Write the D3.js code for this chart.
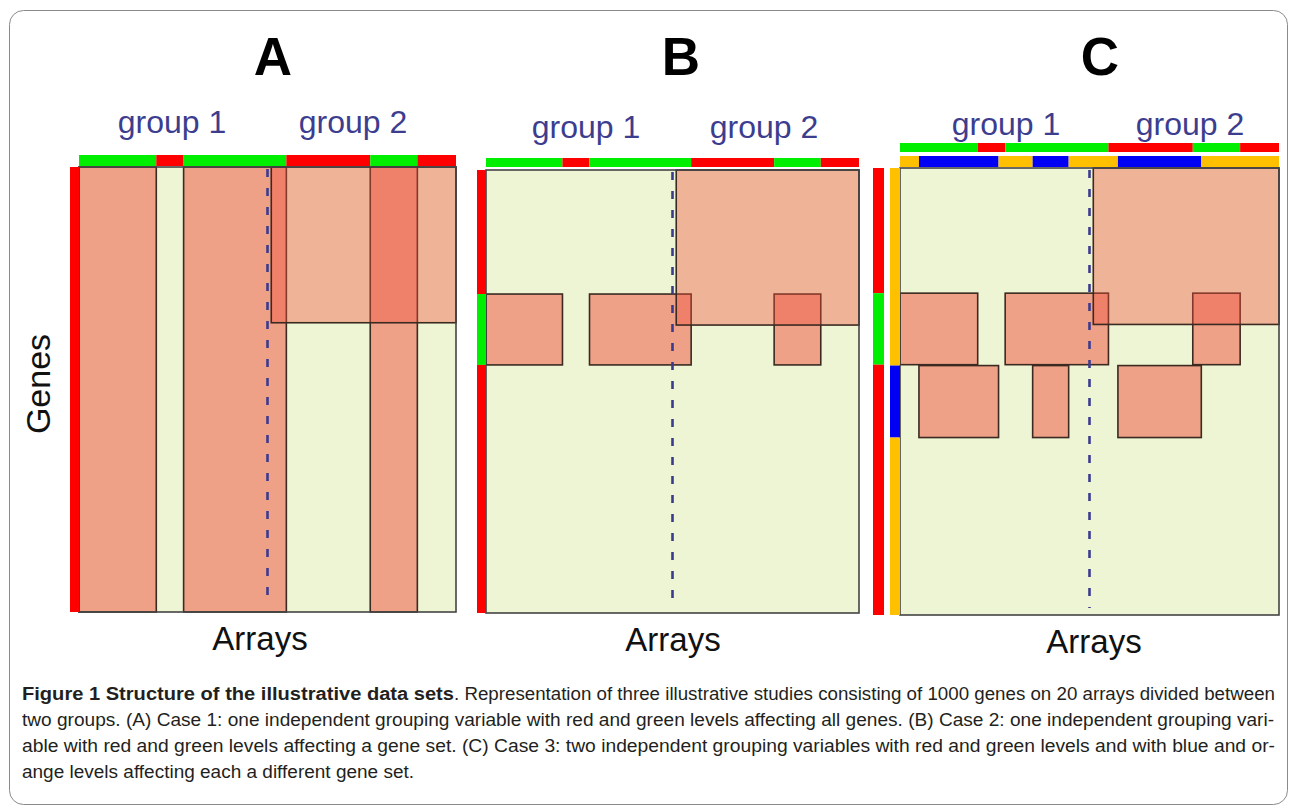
<!DOCTYPE html>
<html>
<head>
<meta charset="utf-8">
<script src="https://cdn.jsdelivr.net/npm/d3@7"></script>
<style>
body { margin: 0; background: #fff; }
svg text { font-family: "Liberation Sans", Arial, sans-serif; }
.caption { font-family: "Liberation Sans Narrow", "Liberation Sans", sans-serif !important; font-size: 17.5px; fill: #231f20; }
</style>
</head>
<body>
<svg id="fig" width="1289" height="807"></svg>
<script>
// ---- data ----
var panelNames = ["A", "B", "C"];
var nArrays = 20;
var nGenes = 1000;
var groupLabels = ["group 1", "group 2"];
var groupSplit = 10; // arrays 1-10 vs 11-20

// red / green grouping variable along the arrays
var rgBreaks = [0, 4.1, 5.55, 11.0, 15.45, 17.95, 20];
var rgLevels = ["green", "red", "green", "red", "green", "red"];
// blue / orange grouping variable (case 3 only)
var boBreaks = [0, 1.0, 5.2, 7.0, 8.9, 11.5, 15.9, 20];
var boLevels = ["orange", "blue", "orange", "blue", "orange", "blue", "orange"];

// gene sets
var group2Arrays = [10.2, 20];
var group2Genes = [0, 350];
var greenGenes = [280, 440];
var blueGenes = [442, 603];

// which genes the green / blue levels affect, per panel
var greenEffect = { A: [0, 1000], B: greenGenes, C: greenGenes };
var blueEffect = { C: blueGenes };

// side bars along the genes
var rgGeneBreaks = { A: [0, 1000], B: [0, 280, 440, 1000], C: [0, 280, 440, 1000] };
var rgGeneLevels = { A: ["red"], B: ["red", "green", "red"], C: ["red", "green", "red"] };
var boGeneBreaks = { C: [0, 442, 603, 1000] };
var boGeneLevels = { C: ["orange", "blue", "orange"] };

var captionBold = "Figure 1 Structure of the illustrative data sets";
var captionLines = [
  ". Representation of three illustrative studies consisting of 1000 genes on 20 arrays divided between",
  "two groups. (A) Case 1: one independent grouping variable with red and green levels affecting all genes. (B) Case 2: one independent grouping vari-",
  "able with red and green levels affecting a gene set. (C) Case 3: two independent grouping variables with red and green levels and with blue and or-",
  "ange levels affecting each a different gene set."
];

// ---- layout ----
var layout = {
  A: { x0: 79, x1: 456, y0: 167, y1: 612, tx: 273, g1: 172, g2: 353, gy: 133, ax: 260, ay: 650,
       rgTop: 155, rgH: 11, rgLeft: 70, rgW: 9 },
  B: { x0: 486, x1: 859, y0: 170, y1: 613, tx: 681, g1: 586, g2: 764, gy: 138, ax: 673, ay: 651,
       rgTop: 158, rgH: 9, rgLeft: 477, rgW: 9 },
  C: { x0: 900, x1: 1279, y0: 168, y1: 615, tx: 1100, g1: 1006, g2: 1190, gy: 135, ax: 1094, ay: 653,
       rgTop: 143, rgH: 9, rgLeft: 873, rgW: 11, boTop: 156, boH: 11, boLeft: 890, boW: 10 }
};

var levelColor = { green: "#00ee00", red: "#ff0000", blue: "#0000f4", orange: "#ffc000" };
var pale = "#eef5d4";
var salmon = "#f0503c";
var edge = "#3a2a22";

var svg = d3.select("#fig");

// outer frame
svg.append("rect")
  .attr("x", 9.5).attr("y", 10.5)
  .attr("width", 1278).attr("height", 794)
  .attr("rx", 14)
  .attr("fill", "#fff")
  .attr("stroke", "#8a8a8a");

function segments(breaks, levels) {
  return levels.map(function(l, i) { return { a: breaks[i], b: breaks[i + 1], level: l }; });
}

panelNames.forEach(function(p) {
  var L = layout[p];
  var x = d3.scaleLinear().domain([0, nArrays]).range([L.x0, L.x1]);
  var y = d3.scaleLinear().domain([0, nGenes]).range([L.y0, L.y1]);
  var g = svg.append("g");

  // background
  g.append("rect")
    .attr("x", x(0)).attr("y", y(0))
    .attr("width", x(nArrays) - x(0)).attr("height", y(nGenes) - y(0))
    .attr("fill", pale);

  // effects of the green level and the blue level
  var boxes = [];
  segments(rgBreaks, rgLevels).filter(function(d) { return d.level == "green"; })
    .forEach(function(d) { boxes.push({ a: d.a, b: d.b, g0: greenEffect[p][0], g1: greenEffect[p][1] }); });
  if (blueEffect[p]) {
    segments(boBreaks, boLevels).filter(function(d) { return d.level == "blue"; })
      .forEach(function(d) { boxes.push({ a: d.a, b: d.b, g0: blueEffect[p][0], g1: blueEffect[p][1] }); });
  }

  g.selectAll("rect.box")
    .data(boxes)
    .enter()
    .append("rect")
    .attr("class", "box")
    .attr("x", d => x(d.a))
    .attr("y", d => y(d.g0))
    .attr("width", d => x(d.b) - x(d.a))
    .attr("height", d => y(d.g1) - y(d.g0))
    .attr("fill", salmon)
    .attr("fill-opacity", 0.51)
    .attr("stroke", edge)
    .attr("stroke-width", 1.6);

  // group 2 gene set
  g.append("rect")
    .attr("x", x(group2Arrays[0])).attr("y", y(group2Genes[0]))
    .attr("width", x(group2Arrays[1]) - x(group2Arrays[0]))
    .attr("height", y(group2Genes[1]) - y(group2Genes[0]))
    .attr("fill", salmon)
    .attr("fill-opacity", 0.4)
    .attr("stroke", edge)
    .attr("stroke-width", 1.6);

  // matrix outline
  g.append("rect")
    .attr("x", x(0)).attr("y", y(0))
    .attr("width", x(nArrays) - x(0)).attr("height", y(nGenes) - y(0))
    .attr("fill", "none")
    .attr("stroke", "#444")
    .attr("stroke-width", 1.6);

  // split between groups
  g.append("line")
    .attr("x1", x(groupSplit)).attr("x2", x(groupSplit))
    .attr("y1", y(0) + 2).attr("y2", y(nGenes) - 7)
    .attr("stroke", "#3b3b8e")
    .attr("stroke-width", 2.6)
    .attr("stroke-dasharray", "8,11");

  // top bars
  g.selectAll("rect.rgtop")
    .data(segments(rgBreaks, rgLevels))
    .enter()
    .append("rect")
    .attr("x", d => x(d.a)).attr("width", d => x(d.b) - x(d.a))
    .attr("y", L.rgTop).attr("height", L.rgH)
    .attr("fill", d => levelColor[d.level]);

  if (p == "C") {
    g.selectAll("rect.botop")
      .data(segments(boBreaks, boLevels))
      .enter()
      .append("rect")
      .attr("x", d => x(d.a)).attr("width", d => x(d.b) - x(d.a))
      .attr("y", L.boTop).attr("height", L.boH)
      .attr("fill", d => levelColor[d.level]);
  }

  // side bars
  g.selectAll("rect.rgside")
    .data(segments(rgGeneBreaks[p], rgGeneLevels[p]))
    .enter()
    .append("rect")
    .attr("y", d => y(d.a)).attr("height", d => y(d.b) - y(d.a))
    .attr("x", L.rgLeft).attr("width", L.rgW)
    .attr("fill", d => levelColor[d.level]);

  if (boGeneBreaks[p]) {
    g.selectAll("rect.boside")
      .data(segments(boGeneBreaks[p], boGeneLevels[p]))
      .enter()
      .append("rect")
      .attr("y", d => y(d.a)).attr("height", d => y(d.b) - y(d.a))
      .attr("x", L.boLeft).attr("width", L.boW)
      .attr("fill", d => levelColor[d.level]);
  }

  // labels
  g.append("text")
    .attr("x", L.tx).attr("y", 75)
    .attr("text-anchor", "middle")
    .style("font-size", "53px")
    .style("font-weight", "bold")
    .text(p);

  g.selectAll("text.grp")
    .data(groupLabels)
    .enter()
    .append("text")
    .attr("x", (d, i) => i == 0 ? L.g1 : L.g2)
    .attr("y", L.gy)
    .attr("text-anchor", "middle")
    .attr("fill", "#3d3d8f")
    .style("font-size", "32px")
    .text(d => d);

  g.append("text")
    .attr("x", L.ax).attr("y", L.ay)
    .attr("text-anchor", "middle")
    .attr("fill", "#111")
    .style("font-size", "33px")
    .text("Arrays");
});

svg.append("text")
  .attr("transform", "translate(50, 384) rotate(-90)")
  .attr("text-anchor", "middle")
  .attr("fill", "#111")
  .style("font-size", "34px")
  .text("Genes");

// caption
var cap = svg.append("g");
cap.append("text")
  .attr("class", "caption")
  .attr("x", 22).attr("y", 700)
  .attr("textLength", 432).attr("lengthAdjust", "spacingAndGlyphs")
  .style("font-weight", "bold")
  .text(captionBold);

var capEnds = [[454, 1275], [22, 1274], [22, 1275], [22, 414]];
captionLines.forEach(function(t, i) {
  cap.append("text")
    .attr("class", "caption")
    .attr("x", capEnds[i][0]).attr("y", 700 + i * 26)
    .attr("textLength", capEnds[i][1] - capEnds[i][0])
    .attr("lengthAdjust", "spacingAndGlyphs")
    .text(t);
});
</script>
</body>
</html>
